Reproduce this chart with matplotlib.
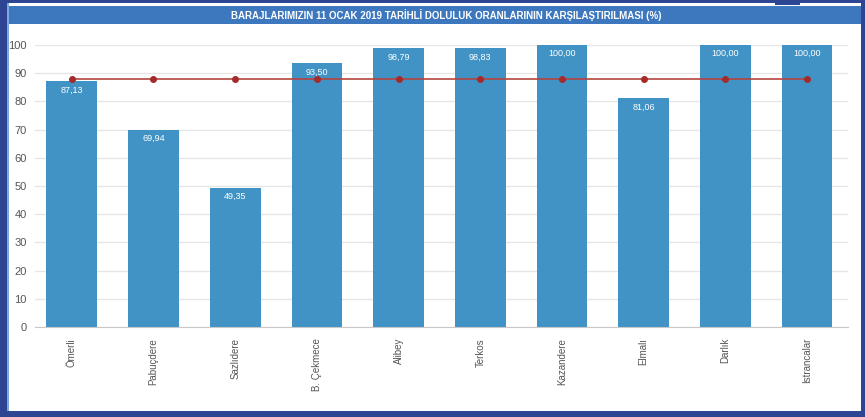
import matplotlib.pyplot as plt
from matplotlib.patches import Rectangle
import numpy as np

# dam names and fill ratios (%) on 11 Jan 2019
barajlar = ['Ömerli', 'Pabuçdere', 'Sazlıdere', 'B. Çekmece', 'Alibey',
            'Terkos', 'Kazandere', 'Elmalı', 'Darlık', 'Istrancalar']
doluluk = [87.13, 69.94, 49.35, 93.50, 98.79, 98.83, 100.00, 81.06, 100.00, 100.00]
ortalama = [np.mean(doluluk)] * len(barajlar)
yticks = [0, 10, 20, 30, 40, 50, 60, 70, 80, 90, 100]
baslik = 'BARAJLARIMIZIN 11 OCAK 2019 TARİHLİ DOLULUK ORANLARININ KARŞILAŞTIRILMASI (%)'

plt.rcParams['font.family'] = ['Liberation Sans', 'DejaVu Sans']

fig = plt.figure(figsize=(8.65, 4.17), dpi=100)
fig.patch.set_facecolor('white')

# frame decoration
W, H = 865, 417
def px(x, y, w, h, c):
    fig.add_artist(Rectangle((x / W, 1 - (y + h) / H), w / W, h / H,
                             transform=fig.transFigure, color=c, lw=0, zorder=0))
dark = '#2D4592'
px(0, 0, W, 3, dark)
px(0, 0, 7, H, dark)
px(861, 0, 4, H, dark)
px(0, 411, W, 6, dark)
px(7, 3, 2, 408, '#7FA8DE')
px(775, 0, 25, 5, dark)
px(9, 6, 852, 18, '#3D78BE')
fig.text(446 / W, 1 - 15 / H, baslik, color='white', fontsize=7, fontweight='bold',
         ha='center', va='center', family=['Liberation Sans Narrow', 'Liberation Sans', 'DejaVu Sans'])

ax = fig.add_axes([35 / W, (H - 327) / H, 813 / W, 282 / H])
x = np.arange(len(barajlar))
bars = ax.bar(x, doluluk, width=0.62, color='#4093C4', zorder=2)
for xi, v in zip(x, doluluk):
    ax.text(xi, v - 1.5, f'{v:.2f}'.replace('.', ','), color='white', fontsize=6.5,
            ha='center', va='top', zorder=4)
ax.plot(x, ortalama, color='#B5443F', lw=1.2, marker='o', ms=4,
        mfc='#A52A2A', mec='#A52A2A', zorder=3)

ax.set_xlim(-0.45, 9.5)
ax.set_ylim(0, 100)
ax.set_yticks(yticks)
ax.yaxis.grid(True, color='#E6E6E6', lw=1, zorder=0)
ax.set_axisbelow(True)
for s in ['top', 'right', 'left']:
    ax.spines[s].set_visible(False)
ax.spines['bottom'].set_color('#C8C8C8')
ax.tick_params(axis='y', length=0, labelsize=8, labelcolor='#555555', pad=6)
ax.tick_params(axis='x', length=0, labelsize=7, labelcolor='#555555', pad=8)
ax.set_xticks(x)
ax.set_xticklabels(barajlar, rotation=90, va='top')

fig.savefig('out.png', dpi=100)
